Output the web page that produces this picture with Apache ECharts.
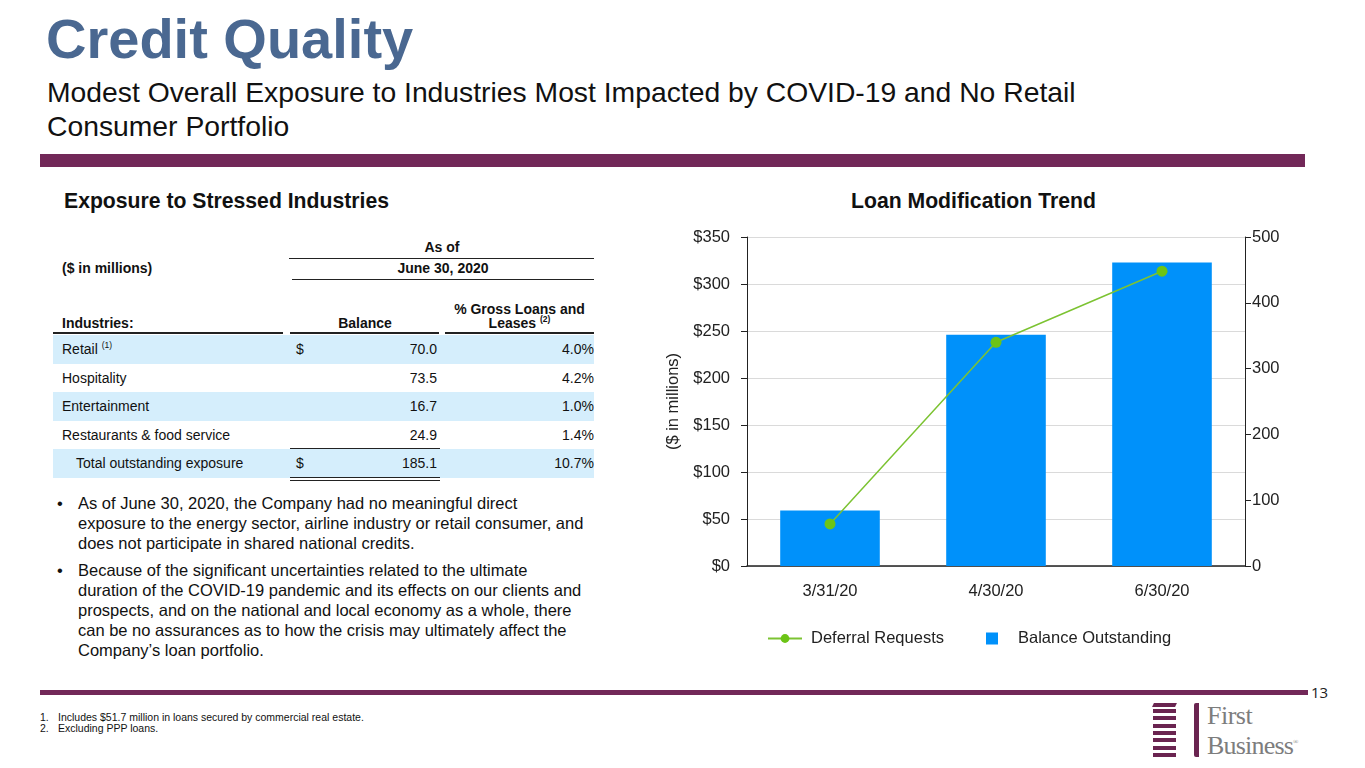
<!DOCTYPE html>
<html><head><meta charset="utf-8">
<script src="https://cdn.jsdelivr.net/npm/echarts@6/dist/echarts.min.js"></script>
<style>
body{margin:0;width:1365px;height:768px;position:relative;background:#fff;font-family:"Liberation Sans",Arial,sans-serif;overflow:hidden;color:#111;}
.a{position:absolute;white-space:nowrap;}
.hl{position:absolute;height:1px;background:#222;}
.row{position:absolute;left:53px;width:541px;height:28px;}
.bul{position:absolute;left:57px;font-size:16.5px;line-height:20px;color:#111;}
.bul span{position:absolute;left:0;}
.bul div{position:absolute;left:21px;white-space:nowrap;}
sup.n{font-size:8.5px;position:relative;top:-6px;vertical-align:baseline;line-height:0;}
</style></head><body>
<div class="a" style="left:46px;top:11px;font-size:56px;line-height:56px;font-weight:bold;color:#4A6891;">Credit Quality</div>
<div class="a" style="left:47px;top:75px;font-size:28.3px;line-height:34px;color:#111;">Modest Overall Exposure to Industries Most Impacted by COVID-19 and No Retail<br>Consumer Portfolio</div>
<div class="a" style="left:40px;top:154px;width:1265px;height:13px;background:#722858;"></div>

<div class="a" style="left:64px;top:189px;font-size:21.2px;line-height:24px;font-weight:bold;">Exposure to Stressed Industries</div>
<div class="a" style="left:851px;top:189px;font-size:21.2px;line-height:24px;font-weight:bold;">Loan Modification Trend</div>

<div id="table"></div>
<div id="bullets"></div>

<div id="chart" class="a" style="left:620px;top:220px;width:720px;height:440px;"></div>

<div class="a" style="left:40px;top:690px;width:1268px;height:5px;background:#722858;"></div>
<div class="a" style="left:1311px;top:683px;font-size:15px;line-height:18px;color:#222;font-family:'Open Sans',sans-serif;">13</div>
<div class="a" style="left:40px;top:712px;font-size:10.5px;line-height:11px;color:#111;">1.</div>
<div class="a" style="left:58px;top:712px;font-size:10.5px;line-height:11px;color:#111;">Includes $51.7 million in loans secured by commercial real estate.</div>
<div class="a" style="left:40px;top:723px;font-size:10.5px;line-height:11px;color:#111;">2.</div>
<div class="a" style="left:58px;top:723px;font-size:10.5px;line-height:11px;color:#111;">Excluding PPP loans.</div>

<div id="logo"></div>

<script>
// ---- Table data ----
const industries = ['Retail', 'Hospitality', 'Entertainment', 'Restaurants & food service'];
const industryNotes = ['(1)', '', '', ''];
const balances = ['70.0', '73.5', '16.7', '24.9'];
const pctGross = ['4.0%', '4.2%', '1.0%', '1.4%'];
const totalLabel = 'Total outstanding exposure';
const totalBalance = '185.1';
const totalPct = '10.7%';

// ---- Chart data ----
const categories = ['3/31/20', '4/30/20', '6/30/20'];
const balanceOutstanding = [59, 246, 323];
const deferralRequests = [64, 340, 448];
const leftAxisMax = 350;
const rightAxisMax = 500;

// ---- Bullets ----
const bullets = [
  ['As of June 30, 2020, the Company had no meaningful direct',
   'exposure to the energy sector, airline industry or retail consumer, and',
   'does not participate in shared national credits.'],
  ['Because of the significant uncertainties related to the ultimate',
   'duration of the COVID-19 pandemic and its effects on our clients and',
   'prospects, and on the national and local economy as a whole, there',
   'can be no assurances as to how the crisis may ultimately affect the',
   'Company\u2019s loan portfolio.']
];

// build table
(function(){
  let h = '';
  const hdr = 'font-size:14px;font-weight:bold;line-height:16px;';
  h += `<div class="a" style="${hdr}left:290px;width:304px;text-align:center;top:239px;">As of</div>`;
  h += `<div class="hl" style="left:289px;width:305px;top:258px;"></div>`;
  h += `<div class="a" style="${hdr}left:62px;top:260px;">($ in millions)</div>`;
  h += `<div class="a" style="${hdr}left:292px;width:302px;text-align:center;top:260px;">June 30, 2020</div>`;
  h += `<div class="hl" style="left:292px;width:302px;top:279px;"></div>`;
  h += `<div class="a" style="${hdr}left:445px;width:149px;text-align:center;top:301px;">% Gross Loans and</div>`;
  h += `<div class="a" style="${hdr}left:445px;width:149px;text-align:center;top:315px;">Leases <sup class="n">(2)</sup></div>`;
  h += `<div class="a" style="${hdr}left:62px;top:315px;">Industries:</div>`;
  h += `<div class="a" style="${hdr}left:290px;width:150px;text-align:center;top:315px;">Balance</div>`;
  h += `<div class="hl" style="left:53px;width:230px;top:332px;height:1.5px;"></div>`;
  h += `<div class="hl" style="left:290px;width:149px;top:332px;height:1.5px;"></div>`;
  h += `<div class="hl" style="left:445px;width:149px;top:332px;height:1.5px;"></div>`;
  const rowTop = 335, rowH = 28.6;
  const txt = 'font-size:14px;line-height:16px;';
  industries.forEach((name, i) => {
    const top = rowTop + i * rowH;
    if (i % 2 === 0) h += `<div class="row" style="top:${top}px;height:${rowH}px;background:#D5EEFC;"></div>`;
    const ty = top + 6;
    const note = industryNotes[i] ? ` <sup class="n">${industryNotes[i]}</sup>` : '';
    h += `<div class="a" style="${txt}left:62px;top:${ty}px;">${name}${note}</div>`;
    if (i === 0) h += `<div class="a" style="${txt}left:296px;top:${ty}px;">$</div>`;
    h += `<div class="a" style="${txt}left:300px;width:137px;text-align:right;top:${ty}px;">${balances[i]}</div>`;
    h += `<div class="a" style="${txt}left:450px;width:144px;text-align:right;top:${ty}px;">${pctGross[i]}</div>`;
  });
  const tt = rowTop + industries.length * rowH;
  h += `<div class="row" style="top:${tt}px;height:${rowH}px;background:#D5EEFC;"></div>`;
  h += `<div class="hl" style="left:290px;width:150px;top:${tt-1}px;"></div>`;
  const ty = tt + 6;
  h += `<div class="a" style="${txt}left:76px;top:${ty}px;">${totalLabel}</div>`;
  h += `<div class="a" style="${txt}left:296px;top:${ty}px;">$</div>`;
  h += `<div class="a" style="${txt}left:300px;width:137px;text-align:right;top:${ty}px;">${totalBalance}</div>`;
  h += `<div class="a" style="${txt}left:450px;width:144px;text-align:right;top:${ty}px;">${totalPct}</div>`;
  h += `<div class="hl" style="left:290px;width:150px;top:${tt+rowH-1}px;"></div>`;
  h += `<div class="hl" style="left:290px;width:150px;top:${tt+rowH+2}px;"></div>`;
  document.getElementById('table').innerHTML = h;

  let b = '';
  let y = 493;
  bullets.forEach(lines => {
    b += `<div class="bul" style="top:${y}px;"><span>\u2022</span>`;
    lines.forEach((l, k) => { b += `<div style="top:${k*20}px;">${l}</div>`; });
    b += `</div>`;
    y += lines.length * 20 + 7;
  });
  document.getElementById('bullets').innerHTML = b;

  // logo
  let g = '';
  const purple = '#6A2450';
  for (let k = 0; k < 7; k++) {
    const top = 709 + k * 7.3;
    g += `<div class="a" style="left:1153px;top:${top}px;width:23px;height:4px;background:${purple};"></div>`;
  }
  g += `<div class="a" style="left:1153px;top:703px;width:23px;height:4px;background:${purple};transform:skewX(-25deg);"></div>`;
  g += `<div class="a" style="left:1194px;top:703px;width:5px;height:54px;background:${purple};border-radius:2px 0 0 2px;"></div>`;
  g += `<div class="a" style="left:1207px;top:703px;font-family:'Liberation Serif',serif;font-size:26px;line-height:26px;color:#7d7d7d;letter-spacing:-0.5px;">First</div>`;
  g += `<div class="a" style="left:1207px;top:729px;font-family:'Liberation Serif',serif;font-size:26px;line-height:26px;color:#7d7d7d;letter-spacing:-0.8px;">Business<span style="font-size:7px;vertical-align:10px;">\u00AE</span></div>`;
  document.getElementById('logo').innerHTML = g;
})();

// chart
const chart = echarts.init(document.getElementById('chart'), null, {renderer: 'canvas'});
const font = 'Liberation Sans';
const axisLbl = {fontSize: 16.5, color: '#222', fontFamily: font};
chart.setOption({
  animation: false,
  textStyle: {fontFamily: font},
  grid: {left: 127, right: 95, top: 17, bottom: 94},
  legend: [
    {data: ['Deferral Requests'], left: 142, top: 405, itemWidth: 34, itemHeight: 11,
     textStyle: {fontSize: 16.5, color: '#222', fontFamily: font, padding: [0,0,0,4]}},
    {data: [{name: 'Balance Outstanding', icon: 'rect'}], left: 361, top: 405, itemWidth: 12, itemHeight: 12,
     textStyle: {fontSize: 16.5, color: '#222', fontFamily: font, padding: [0,0,0,15]}}
  ],
  xAxis: {
    type: 'category', data: categories,
    axisLine: {lineStyle: {color: '#222', width: 1.5}},
    axisTick: {alignWithLabel: true, length: 6, lineStyle: {color: '#222'}},
    axisLabel: Object.assign({margin: 17}, axisLbl)
  },
  yAxis: [
    {type: 'value', min: 0, max: leftAxisMax, interval: 50,
     name: '($ in millions)', nameLocation: 'middle', nameRotate: 90, nameGap: 63,
     nameTextStyle: {fontSize: 16.5, color: '#222', fontFamily: font},
     axisLine: {show: true, lineStyle: {color: '#222'}},
     axisTick: {show: true, length: 6, lineStyle: {color: '#222'}},
     axisLabel: Object.assign({margin: 17, formatter: v => '$' + v}, axisLbl),
     splitLine: {show: true, lineStyle: {color: '#DADADA'}}},
    {type: 'value', min: 0, max: rightAxisMax, interval: 100,
     axisLine: {show: true, lineStyle: {color: '#222'}},
     axisTick: {show: true, length: 6, lineStyle: {color: '#222'}},
     axisLabel: Object.assign({margin: 7}, axisLbl),
     splitLine: {show: false}}
  ],
  series: [
    {name: 'Balance Outstanding', type: 'bar', data: balanceOutstanding, barWidth: '60%',
     itemStyle: {color: '#0091FA'}},
    {name: 'Deferral Requests', type: 'line', yAxisIndex: 1, data: deferralRequests,
     symbol: 'circle', symbolSize: 11,
     lineStyle: {color: '#7CC332', width: 1.5},
     itemStyle: {color: '#6CC416'}}
  ]
});
</script>
</body></html>
